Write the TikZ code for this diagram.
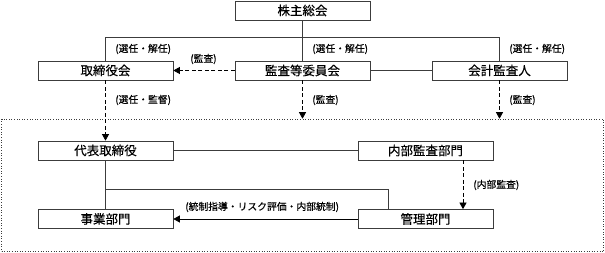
\documentclass[tikz,border=0pt]{standalone}
\usepackage{fontspec}
\setmainfont{Noto Sans CJK JP}[FakeBold=0.3]
\usepackage{tikz}
\usetikzlibrary{arrows.meta}
\definecolor{senzumi}{RGB}{60,60,60}

\begin{document}
\begin{tikzpicture}[x=1pt, y=-1pt, >={Triangle[length=6.5pt,width=7pt]}, line width=0.7pt,
    kaku/.style={draw=senzumi, fill=white, minimum width=135pt, minimum height=19pt, inner sep=0pt, font=\fontsize{12.5}{12.5}\selectfont},
    memo/.style={anchor=west, inner sep=0pt, font=\fontsize{9.8}{9.8}\selectfont},
    tensen/.style={dash pattern=on 4pt off 2.5pt}]
    \useasboundingbox (0,0) rectangle (605,253);
    \node[draw=senzumi, dotted, line width=0.6pt, minimum width=602pt, minimum height=132.5pt, inner sep=0pt] (waku) at (302.5,185.25) {};
    \node[kaku] (sokai) at (302.5,10.5) {株主総会};
    \node[kaku] (torishimari) at (105.5,70.5) {取締役会};
    \node[kaku] (kansa) at (302.5,70.5) {監査等委員会};
    \node[kaku] (kaikei) at (499.5,70.5) {会計監査人};
    \node[kaku] (daihyo) at (105.5,150.5) {代表取締役};
    \node[kaku] (naibu) at (425.5,150.5) {内部監査部門};
    \node[kaku] (jigyo) at (105.5,219) {事業部門};
    \node[kaku] (kanri) at (425.5,219) {管理部門};
    \coordinate (hidari) at (105.5,37);
    \coordinate (migi) at (499.5,37);
    \coordinate (bunki) at (105.5,189);
    \draw[senzumi] (sokai.south) -- (kansa.north);
    \draw[senzumi] (torishimari.north) -- (hidari) -- (migi) -- (kaikei.north);
    \draw[senzumi] (kansa.east) -- (kaikei.west);
    \draw[->,tensen] (kansa.west) -- (torishimari.east);
    \draw[->,tensen] (torishimari.south) -- (daihyo.north);
    \draw[->,tensen] (kansa.south) -- (kansa.south |- waku.north);
    \draw[->,tensen] (kaikei.south) -- (kaikei.south |- waku.north);
    \draw[senzumi] (daihyo.east) -- (naibu.west);
    \draw[->,tensen] ([xshift=37.5pt]naibu.south) -- ([xshift=37.5pt]kanri.north);
    \draw[senzumi] (daihyo.south) -- (jigyo.north);
    \draw[senzumi] (bunki) -| ([xshift=-37.5pt]kanri.north);
    \draw[->] (kanri.west) -- (jigyo.east);
    \node[memo] (m1) at (115,49) {(選任・解任)};
    \node[memo] (m2) at (312,49) {(選任・解任)};
    \node[memo] (m3) at (509,49) {(選任・解任)};
    \node[memo] (m4) at (190,59) {(監査)};
    \node[memo] (m5) at (115,100) {(選任・監督)};
    \node[memo] (m6) at (312,100) {(監査)};
    \node[memo] (m7) at (509,100) {(監査)};
    \node[memo] (m8) at (473,185) {(内部監査)};
    \node[memo] (m9) at (185,207) {(統制指導・リスク評価・内部統制)};
\end{tikzpicture}
\end{document}
